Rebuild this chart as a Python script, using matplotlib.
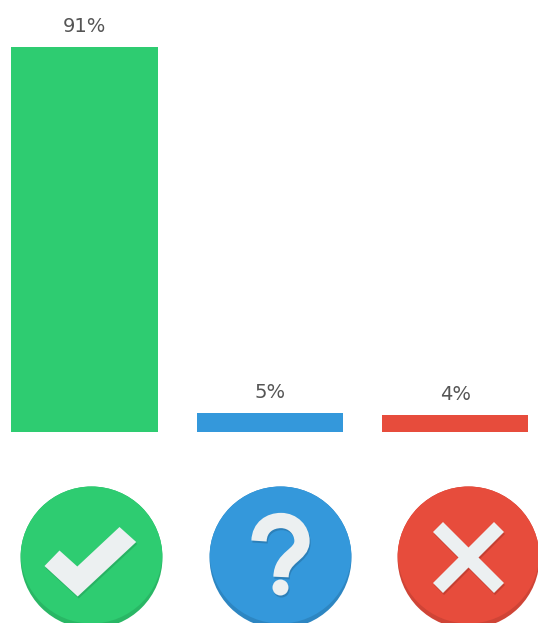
#!/usr/bin/env python3
"""Three bars with a flat icon under each one."""
import matplotlib
matplotlib.use("Agg")
import matplotlib.pyplot as plt
from matplotlib.patches import Circle, PathPatch, Polygon
from matplotlib.path import Path

WIDTH, HEIGHT = 538, 623

categories = ["yes", "unsure", "no"]
values = [91, 4.5, 4]
value_labels = ["91%", "5%", "4%"]
bar_colors = ["#2ecc71", "#3498db", "#e74c3c"]
rim_colors = ["#29b765", "#2d86c2", "#cf4436"]
shadow_colors = ["#28b263", "#2c80b9", "#c43f32"]

ICON_INK = "#ecf0f1"
TEXT_COLOR = "#555555"

# bar layout in pixels
BAR_STEP = 185.3
BAR_FIRST_X = 84.5
BAR_WIDTH = 146
BASE_Y = 432
PX_PER_UNIT = 385 / 91

ICON_X = [91.5, 280.5, 468.5]
ICON_Y = 557.5
ICON_R = 71
RIM_DROP = 5


def draw_check(ax, cx, cy, color, **kw):
    pts = [(-47, 8.5), (-32, -7), (-14.2, 9), (28, -30.5), (44.7, -15.5),
           (-13.8, 39)]
    ax.add_patch(Polygon([(cx + x, cy + y) for x, y in pts], closed=True,
                         facecolor=color, edgecolor="none", **kw))


def draw_question(ax, cx, cy, color, **kw):
    verts = [(-21.5, -16.5), (-21, -30.5), (-10.5, -37), (0.5, -37),
             (12.5, -37), (21.5, -27.5), (21.5, -16.5),
             (21.5, -2), (1, -1), (0.5, 19.5)]
    codes = [Path.MOVETO] + [Path.CURVE4] * 9
    path = Path([(cx + x, cy + y) for x, y in verts], codes)
    ax.add_patch(PathPatch(path, facecolor="none", edgecolor=color, linewidth=11,
                           capstyle="butt", **kw))
    ax.add_patch(Circle((cx, cy + 30), 8, facecolor=color, edgecolor="none", **kw))


def draw_cross(ax, cx, cy, color, **kw):
    a, b, c = 35.5, 25.5, 10
    pts = [(-a, -b), (-b, -a), (0, -c), (b, -a), (a, -b), (c, 0),
           (a, b), (b, a), (0, c), (-b, a), (-a, b), (-c, 0)]
    ax.add_patch(Polygon([(cx + x, cy + y) for x, y in pts], closed=True,
                         facecolor=color, edgecolor="none", **kw))


def main():
    fig = plt.figure(figsize=(WIDTH / 100, HEIGHT / 100), dpi=100)

    ax = fig.add_axes([0, 0, 1, 1])
    ax.set_xlim(-BAR_FIRST_X / BAR_STEP, (WIDTH - BAR_FIRST_X) / BAR_STEP)
    ax.set_ylim(-(HEIGHT - BASE_Y) / PX_PER_UNIT, BASE_Y / PX_PER_UNIT)
    ax.axis("off")

    positions = range(len(categories))
    ax.bar(positions, values, width=BAR_WIDTH / BAR_STEP, color=bar_colors)
    for pos, value, label in zip(positions, values, value_labels):
        ax.annotate(label, (pos, value), xytext=(0, 14.5), textcoords="offset points",
                    ha="center", va="center", fontsize=14, color=TEXT_COLOR)

    icons = fig.add_axes([0, 0, 1, 1])
    icons.set_xlim(0, WIDTH)
    icons.set_ylim(HEIGHT, 0)
    icons.axis("off")
    icons.patch.set_alpha(0)

    drawers = [draw_check, draw_question, draw_cross]
    for cx, draw, face, rim, shadow in zip(ICON_X, drawers, bar_colors, rim_colors,
                                           shadow_colors):
        disc = Circle((cx, ICON_Y), ICON_R, facecolor=rim, edgecolor="none")
        icons.add_patch(disc)
        top = Circle((cx, ICON_Y - RIM_DROP), ICON_R, facecolor=face, edgecolor="none")
        icons.add_patch(top)
        top.set_clip_path(disc)
        draw(icons, cx + 1, ICON_Y + 2, shadow)
        draw(icons, cx, ICON_Y, ICON_INK)

    fig.savefig("out.png", dpi=100)
    plt.close(fig)


if __name__ == "__main__":
    main()
